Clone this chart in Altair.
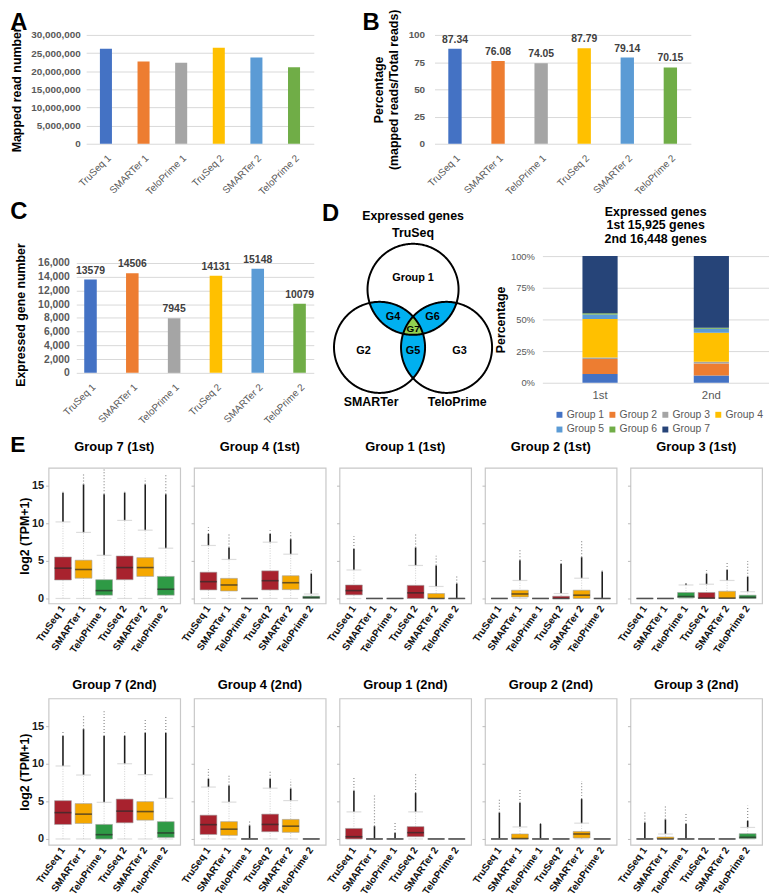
import altair as alt
import numpy as np
import pandas as pd

FONT = "Liberation Sans"

# ---------------- data: panels A-C ----------------
samples = ["TruSeq 1", "SMARTer 1", "TeloPrime 1", "TruSeq 2", "SMARTer 2", "TeloPrime 2"]
sample_colors = ["#4472c4", "#ed7d31", "#a5a5a5", "#ffc000", "#5b9bd5", "#70ad47"]
mapped_reads = [26200000, 22700000, 22300000, 26450000, 23800000, 21100000]
mapped_pct = [87.34, 76.08, 74.05, 87.79, 79.14, 70.15]
expressed_genes = [13579, 14506, 7945, 14131, 15148, 10079]

# ---------------- data: panel D ----------------
rounds = ["1st", "2nd"]
stack_title = ["Expressed genes", "1st 15,925 genes", "2nd 16,448 genes"]
venn_groups = ["Group 1", "Group 2", "Group 3", "Group 4", "Group 5", "Group 6", "Group 7"]
group_colors = ["#4472c4", "#ed7d31", "#a5a5a5", "#ffc000", "#5b9bd5", "#70ad47", "#264478"]
group_pct_1st = [7.0, 11.7, 1.3, 30.4, 3.4, 1.0, 45.2]
group_pct_2nd = [5.7, 9.6, 1.3, 22.9, 3.1, 0.8, 56.6]

venn_sets = ["TruSeq", "SMARTer", "TeloPrime"]
venn_angles = [90, 210, 330]        # direction of each circle centre
venn_dist = 0.85                    # centre distance from diagram centre (radii)
venn_text = ["D", "Expressed genes", "TruSeq", "SMARTer", "TeloPrime",
             "Group 1", "G2", "G3", "G4", "G5", "G6", "G7"]
venn_tx = [-1.81, 0.0, 0.0, -0.92, 0.97, 0.0, -1.09, 1.02, -0.44, 0.0, 0.43, 0.0]
venn_ty = [2.51, 2.47, 2.08, -1.615, -1.615, 1.10, -0.50, -0.50, 0.25, -0.50, 0.25, -0.03]
venn_fs = [24, 12.5, 12.5, 12.5, 12.5, 11, 11, 11, 11, 11, 11, 10]

# ---------------- data: panel E ----------------
# per sample: [q1, median, q3, upper whisker, dense outliers up to, max outlier]
libs = ["TruSeq", "SMARTer", "TeloPrime"]
lib_colors = ["#a8222e", "#f5a800", "#2e9a45"]

g7_1st = [[2.46, 4.04, 5.53, 10.2, 14.1, 14.4], [2.7, 3.86, 5.1, 8.8, 15.2, 16.5],
          [0.44, 1.05, 2.5, 5.75, 13.9, 17.3], [2.5, 4.12, 5.66, 10.4, 14.1, 14.3],
          [2.94, 4.12, 5.44, 9.1, 15.2, 16.0], [0.44, 1.23, 2.94, 6.7, 13.9, 16.5]]
g4_1st = [[1.14, 2.24, 3.5, 7.06, 8.6, 9.5], [1.0, 1.8, 2.68, 5.2, 6.8, 8.7],
          [0, 0, 0, 0, 0, 0], [1.14, 2.37, 3.68, 7.5, 8.6, 9.1],
          [1.18, 2.1, 3.03, 5.9, 7.9, 9.1], [0, 0.13, 0.3, 0.6, 3.3, 3.8]]
g1_1st = [[0.48, 1.05, 1.8, 3.8, 6.6, 8.3], [0, 0, 0, 0, 0, 0],
          [0, 0, 0, 0, 0, 0], [0, 0.75, 1.75, 4.4, 6.8, 8.6],
          [0, 0, 0.66, 1.6, 4.4, 5.7], [0, 0, 0, 0, 2.0, 3.0]]
g2_1st = [[0, 0, 0, 0, 0, 0], [0.2, 0.6, 1.1, 2.4, 5.1, 6.6],
          [0, 0, 0, 0, 0, 0], [0, 0, 0.3, 0.66, 4.6, 5.2],
          [0, 0.44, 1.1, 2.7, 5.5, 7.7], [0, 0, 0, 0, 3.6, 3.9]]
g3_1st = [[0, 0, 0, 0, 0, 0], [0, 0, 0, 0, 0, 0],
          [0.1, 0.26, 0.8, 1.8, 2.0, 2.0], [0, 0.05, 0.8, 1.9, 3.3, 3.8],
          [0, 0.05, 0.96, 2.4, 3.8, 4.9], [0, 0.15, 0.44, 0.9, 2.9, 5.0]]

g7_2nd = [[1.93, 3.5, 5.09, 9.7, 13.7, 14.3], [2.06, 3.3, 4.7, 8.5, 14.6, 16.3],
          [0, 0.57, 1.93, 4.87, 13.7, 17.2], [2.15, 3.7, 5.3, 10.0, 13.7, 14.2],
          [2.5, 3.64, 4.96, 8.55, 14.1, 16.0], [0.2, 0.8, 2.3, 5.4, 14.1, 16.3]]
g4_2nd = [[0.6, 1.9, 3.16, 6.9, 8.0, 9.5], [0.48, 1.3, 2.3, 4.9, 7.1, 8.6],
          [0, 0, 0, 0, 1.8, 2.5], [0.96, 1.93, 3.3, 6.75, 8.0, 9.0],
          [0.88, 1.7, 2.6, 5.1, 6.7, 7.9], [0, 0, 0, 0, 0, 0]]
g1_2nd = [[0, 0.3, 1.4, 3.6, 6.4, 8.2], [0, 0, 0, 0, 1.7, 5.9],
          [0, 0, 0, 0, 0.8, 2.4], [0.3, 0.84, 1.64, 3.6, 6.1, 8.7],
          [0, 0, 0, 0, 0, 0], [0, 0, 0, 0, 0, 0]]
g2_2nd = [[0, 0, 0, 0, 3.5, 5.3], [0, 0.05, 0.66, 1.6, 4.8, 6.6],
          [0, 0, 0, 0, 2.0, 2.4], [0, 0, 0, 0, 0, 0],
          [0.13, 0.66, 1.0, 2.1, 5.3, 7.7], [0, 0, 0, 0, 0, 0]]
g3_2nd = [[0, 0, 0, 0, 2.2, 3.75], [0, 0, 0.26, 0.66, 2.6, 4.4],
          [0, 0, 0, 0, 2.0, 3.5], [0, 0, 0, 0, 0, 0],
          [0, 0, 0, 0, 0, 0], [0.05, 0.22, 0.7, 1.53, 2.4, 4.4]]

row1_panels = [("Group 7 (1st)", g7_1st), ("Group 4 (1st)", g4_1st), ("Group 1 (1st)", g1_1st),
               ("Group 2 (1st)", g2_1st), ("Group 3 (1st)", g3_1st)]
row2_panels = [("Group 7 (2nd)", g7_2nd), ("Group 4 (2nd)", g4_2nd), ("Group 1 (2nd)", g1_2nd),
               ("Group 2 (2nd)", g2_2nd), ("Group 3 (2nd)", g3_2nd)]


# ---------------- helpers ----------------
def letter_layer(ch, dx, dy, size=24):
    return alt.Chart(pd.DataFrame({"t": [ch]})).mark_text(
        font=FONT, fontSize=size, fontWeight="bold", color="black",
        align="center", baseline="middle"
    ).encode(x=alt.value(dx), y=alt.value(dy), text="t:N")


def spacer(w, letter=None, lx=0, ly=0, size=23):
    # empty block that only sets where the row's first panel starts (optionally holds a panel letter)
    rule = alt.Chart(pd.DataFrame({"a": [0]})).mark_rule(opacity=0).encode(
        x=alt.value(0), y=alt.value(0), y2=alt.value(1))
    layers = [rule]
    if letter is not None:
        layers.append(letter_layer(letter, lx, ly, size=size))
    return alt.layer(*layers).properties(width=w, height=1)


def bar_chart(values, ytitle, ymax, yticks, yfmt, width, height, p_in, p_out,
              letter, lx, ly, label_pad, title_pad, label_size=10, labels=None):
    df = pd.DataFrame({"sample": samples, "value": values, "color": sample_colors})
    x = alt.X("sample:N", sort=samples,
              scale=alt.Scale(paddingInner=p_in, paddingOuter=p_out),
              axis=alt.Axis(title=None, labelAngle=-45, labelColor="#595959",
                            labelFontSize=10, labelFont=FONT, ticks=False, domain=False,
                            labelPadding=9))
    y = alt.Y("value:Q", scale=alt.Scale(domain=[0, ymax], nice=False),
              axis=alt.Axis(title=ytitle, values=yticks, format=yfmt, gridColor="#d9d9d9",
                            domain=False, ticks=False, labelColor="#595959",
                            labelFontSize=label_size, labelFontWeight="bold", labelFont=FONT,
                            titleFont=FONT, titleFontSize=12.5, titleFontWeight="bold",
                            titleColor="black", labelPadding=label_pad, titlePadding=title_pad))
    layers = [alt.Chart(df).mark_bar().encode(x=x, y=y, color=alt.Color("color:N", scale=None))]
    if labels is not None:
        df2 = df.assign(label=labels)
        layers.append(alt.Chart(df2).mark_text(
            font=FONT, fontSize=10.5, fontWeight="bold", color="#404040", dy=-9
        ).encode(x=x, y=y, text="label:N"))
    layers.append(letter_layer(letter, lx, ly))
    return alt.layer(*layers).properties(width=width, height=height)


# ---------------- A, B, C ----------------
chart_a = bar_chart(mapped_reads, "Mapped read number", 30000000,
                    [0, 5000000, 10000000, 15000000, 20000000, 25000000, 30000000], ",d",
                    230, 110, 0.68, 0.365, "A", -68, -12, 6, 7)
chart_b = bar_chart(mapped_pct, ["Percentage", "(mapped reads/Total reads)"], 100,
                    [0, 25, 50, 75, 100], "d", 259, 110, 0.69, 0.32, "B", -64, -12, 10, 8,
                    labels=[f"{v:.2f}" for v in mapped_pct])
chart_c = bar_chart(expressed_genes, "Expressed gene number", 17000,
                    [0, 2000, 4000, 6000, 8000, 10000, 12000, 14000, 16000], ",d",
                    240, 118, 0.7, 0.19, "C", -58, -44, 7, 10, label_size=10.5,
                    labels=[str(v) for v in expressed_genes])

# ---------------- D: Venn diagram ----------------
centers = np.array([[venn_dist * np.cos(np.radians(a)), venn_dist * np.sin(np.radians(a))]
                    for a in venn_angles])


def circle_ring(c, n=360):
    t = np.linspace(0, 2 * np.pi, n + 1)
    return np.c_[c[0] + np.cos(t), c[1] + np.sin(t)].tolist()


def disk_intersection(idx, n=1440):
    pts = []
    t = np.linspace(0, 2 * np.pi, n, endpoint=False)
    for i in idx:
        p = np.c_[centers[i][0] + np.cos(t), centers[i][1] + np.sin(t)]
        mask = np.ones(len(p), bool)
        for j in idx:
            if j != i:
                mask &= np.hypot(p[:, 0] - centers[j][0], p[:, 1] - centers[j][1]) <= 1 + 1e-9
        pts.append(p[mask])
    pts = np.vstack(pts)
    c = pts.mean(0)
    pts = pts[np.argsort(np.arctan2(pts[:, 1] - c[1], pts[:, 0] - c[0]))]
    return pts.tolist() + [pts[0].tolist()]


fill_feats = []
for pair in [(0, 1), (0, 2), (1, 2)]:
    fill_feats.append({"type": "Feature", "properties": {"fill": "#00b0f0"},
                       "geometry": {"type": "Polygon", "coordinates": [disk_intersection(pair)]}})
fill_feats.append({"type": "Feature", "properties": {"fill": "#92d050"},
                   "geometry": {"type": "Polygon", "coordinates": [disk_intersection((0, 1, 2))]}})
circle_feats = [{"type": "Feature", "properties": {"name": s},
                 "geometry": {"type": "Polygon", "coordinates": [circle_ring(c)]}}
                for s, c in zip(venn_sets, centers)]

venn_fill = alt.Chart(alt.Data(values=fill_feats)).mark_geoshape(strokeWidth=0, clip=False).encode(
    color=alt.Color("properties.fill:N", scale=None))
venn_line = alt.Chart(alt.Data(values=circle_feats)).mark_geoshape(
    filled=False, stroke="black", strokeWidth=2, clip=False)
venn_lab = alt.Chart(pd.DataFrame({"t": venn_text, "x": venn_tx, "y": venn_ty, "fs": venn_fs})).mark_text(
    font=FONT, fontWeight="bold", color="black", align="center", baseline="middle", clip=False
).encode(longitude="x:Q", latitude="y:Q", text="t:N", size=alt.Size("fs:Q", scale=None))

venn = alt.layer(venn_fill, venn_line, venn_lab).project(
    type="identity", reflectY=True, scale=46, translate=[90.3, 72.7]
).properties(width=211, height=128)

# ---------------- D: stacked bar ----------------
stack_rows = []
for r, pcts in zip(rounds, [group_pct_1st, group_pct_2nd]):
    for i, (g, p) in enumerate(zip(venn_groups, pcts)):
        stack_rows.append({"round": r, "group": g, "pct": p, "ord": i})
stack_df = pd.DataFrame(stack_rows)

stack = alt.Chart(stack_df).mark_bar().encode(
    x=alt.X("round:N", sort=rounds, scale=alt.Scale(paddingInner=0.684, paddingOuter=0.36),
            axis=alt.Axis(title=None, labelAngle=0, labelColor="#595959", labelFontSize=11.5,
                          labelFont=FONT, ticks=False, domain=False, labelPadding=7)),
    y=alt.Y("pct:Q", stack="normalize",
            axis=alt.Axis(title="Percentage", format=".0%", values=[0, 0.25, 0.5, 0.75, 1],
                          gridColor="#d9d9d9", domain=False, ticks=False, labelColor="#595959",
                          labelFontSize=9.5, labelFont=FONT, titleFont=FONT, titleFontSize=12.5,
                          titleFontWeight="bold", titleColor="black", labelPadding=8,
                          titlePadding=3)),
    color=alt.Color("group:N", scale=alt.Scale(domain=venn_groups, range=group_colors),
                    legend=alt.Legend(orient="none", legendX=12, legendY=155, direction="horizontal",
                                      columns=4, title=None, symbolType="square", symbolSize=36,
                                      symbolStrokeWidth=0, labelFontSize=10.5, labelFont=FONT,
                                      labelColor="#595959", columnPadding=2.5, rowPadding=4,
                                      labelOffset=2)),
    order=alt.Order("ord:Q", sort="ascending"),
).properties(width=229, height=128,
             title=alt.TitleParams(stack_title, fontSize=12.5, fontWeight="bold", font=FONT,
                                   lineHeight=13.5, offset=6, color="black"))


# ---------------- E: box panels ----------------
def box_panel(stats, title, ydom, height, title_offset, show_y):
    df = pd.DataFrame(stats, columns=["q1", "med", "q3", "cap", "dense", "top"])
    df["sample"] = samples
    df["lib"] = [s.split()[0] for s in samples]
    df["lo"] = 0.0
    x = alt.X("sample:N", sort=samples, scale=alt.Scale(paddingInner=0, paddingOuter=0.2),
              axis=alt.Axis(title=None, labelAngle=-55, labelFontWeight="bold", labelFontSize=10,
                            labelFont=FONT, labelColor="#111111", ticks=False, domain=False,
                            labelPadding=3, labelAlign="right", labelBaseline="middle"))
    ysc = alt.Scale(domain=ydom, nice=False, zero=False)
    if show_y:
        yax = alt.Axis(title="log2 (TPM+1)", values=[0, 5, 10, 15], labelFontWeight="bold",
                       labelFontSize=11, labelFont=FONT, labelColor="#1a1a1a", titleFont=FONT,
                       titleFontSize=12.5, titleFontWeight="bold", titleColor="black", grid=False,
                       domain=False, tickColor="#bbbbbb", tickSize=3, labelPadding=2,
                       titlePadding=0)
    else:
        yax = alt.Axis(title=None, values=[0, 5, 10, 15], labels=False, grid=False,
                       domain=False, tickColor="#bbbbbb", tickSize=3)
    base = alt.Chart(df)
    whisk = base.mark_rule(color="#c4c4c4", strokeDash=[1, 1.5], strokeWidth=0.8).encode(
        x=x, y=alt.Y("lo:Q", scale=ysc, axis=yax), y2="cap:Q")
    dense = base.mark_rule(color="#1e1e1e", strokeWidth=1.6).encode(
        x=x, y=alt.Y("cap:Q", scale=ysc, axis=yax), y2="dense:Q")
    sparse = base.mark_rule(color="#8a8a8a", strokeDash=[1, 2], strokeWidth=1.2).encode(
        x=x, y=alt.Y("dense:Q", scale=ysc, axis=yax), y2="top:Q")
    cap_lo = base.mark_tick(color="#cfcfcf", size=15, thickness=1.2).encode(
        x=x, y=alt.Y("lo:Q", scale=ysc, axis=yax))
    cap_hi = base.mark_tick(color="#cfcfcf", size=15, thickness=1.2).encode(
        x=x, y=alt.Y("cap:Q", scale=ysc, axis=yax))
    box = base.mark_bar(size=17, stroke="#a0a0a0", strokeWidth=0.6).encode(
        x=x, y=alt.Y("q1:Q", scale=ysc, axis=yax), y2="q3:Q",
        color=alt.Color("lib:N", scale=alt.Scale(domain=libs, range=lib_colors), legend=None))
    med = base.mark_tick(color="#2b2b2b", size=17, thickness=1.6).encode(
        x=x, y=alt.Y("med:Q", scale=ysc, axis=yax))
    return alt.layer(whisk, dense, sparse, cap_lo, cap_hi, box, med).properties(
        width=133, height=height,
        title=alt.TitleParams(title, fontSize=13, fontWeight="bold", font=FONT,
                              offset=title_offset, color="black"),
        view=alt.ViewBackground(stroke="#c8c8c8", strokeWidth=1.2))


row_e1 = alt.hconcat(spacer(30, "E", 13, -23), *[
    box_panel(st, t, [-0.66, 17.4], 137, 14, i == 0)
    for i, (t, st) in enumerate(row1_panels)], spacing=14, bounds="flush")
row_e2 = alt.hconcat(spacer(30), *[
    box_panel(st, t, [-0.79, 18.68], 148, 7, i == 0)
    for i, (t, st) in enumerate(row2_panels)], spacing=14, bounds="flush")

row_ab = alt.hconcat(spacer(82), alt.hconcat(chart_a, chart_b, spacing=122, bounds="flush"),
                     spacing=0, bounds="flush")
row_cd = alt.hconcat(spacer(62), chart_c, venn, stack, spacing=10, bounds="flush").resolve_scale(
    color="independent")

top = alt.vconcat(row_ab, row_cd, spacing=3.5).resolve_scale(color="independent")
bottom = alt.vconcat(row_e1, row_e2, spacing=22)

chart = alt.vconcat(top, bottom, spacing=-1.5).resolve_scale(color="independent").properties(
    padding={"left": -3, "top": -4.5, "right": 0, "bottom": 0}
).configure(font=FONT).configure_view(strokeWidth=0)

chart.save("out.html", embed_options={"renderer": "svg", "actions": False})
